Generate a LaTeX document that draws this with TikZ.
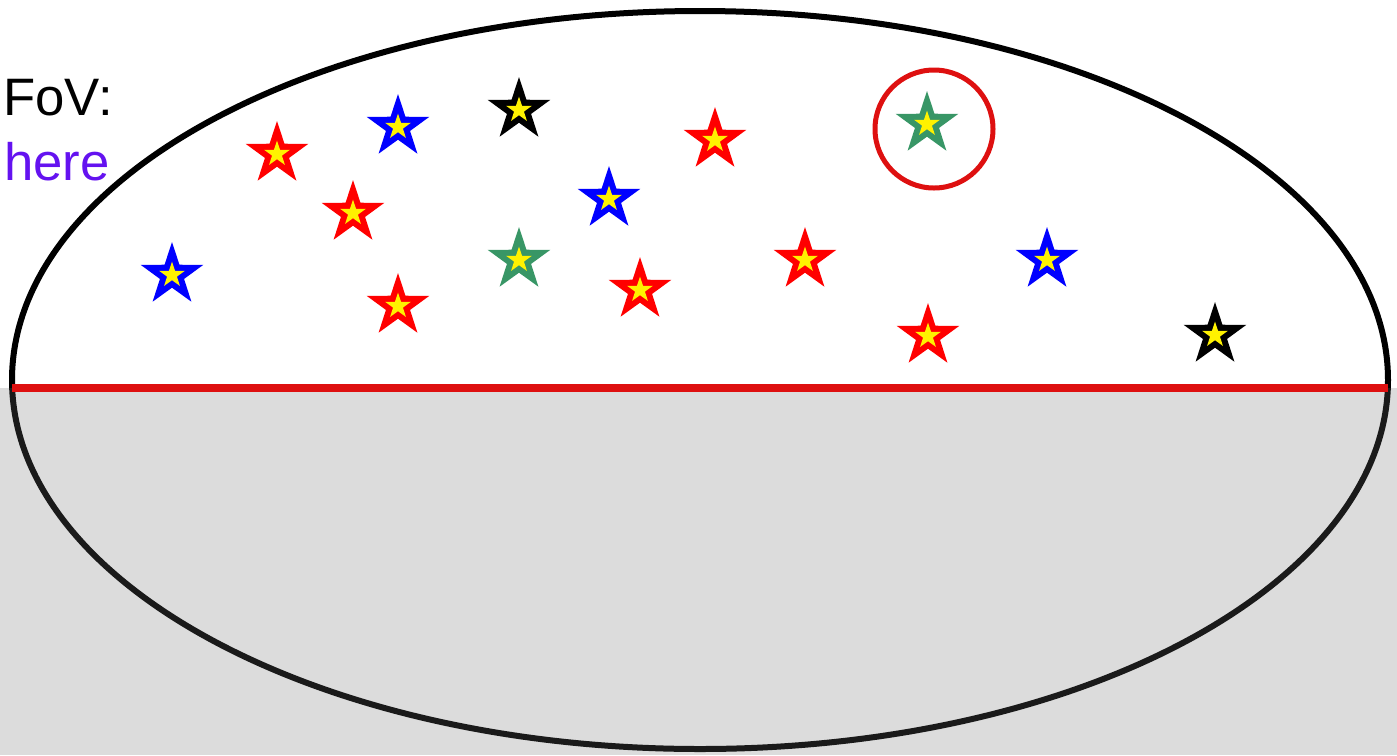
\documentclass[tikz,border=0pt]{standalone}
\usepackage{fontspec}
\setmainfont{Liberation Sans}
\usetikzlibrary{shapes.geometric}

\definecolor{skyred}{RGB}{255,0,0}
\definecolor{skyblue}{RGB}{0,0,255}
\definecolor{skygreen}{RGB}{56,150,102}
\definecolor{ringred}{RGB}{222,16,16}
\definecolor{groundgray}{RGB}{220,220,220}
\definecolor{labelpurple}{RGB}{100,18,240}

\begin{document}
\begin{tikzpicture}[x=0.02cm, y=-0.02cm,
    skystar/.style={star, star points=5, star point ratio=2.6, minimum size=1.32cm, inner sep=0pt},
    starcore/.style={star, star points=5, star point ratio=2.6, minimum size=0.54cm, inner sep=0pt, fill=yellow},
    fovlabel/.style={anchor=base east, inner sep=0pt, font=\fontsize{30pt}{34pt}\selectfont}]
      \useasboundingbox (0,0) rectangle (1397,755);

      % Ground
      \fill[groundgray] (0,388) rectangle (1397,755);

      % Sky
      \draw[line width=0.12cm] (700,380) ellipse [x radius=688, y radius=369];
      \fill[groundgray, opacity=0.12] (0,388) rectangle (1397,755);
      \coordinate (west) at (12,388);
      \coordinate (east) at (1388,388);
      \draw[ringred, line width=0.16cm] (west) -- (east);

      % Labels
      \node[fovlabel] (fov) at (113,115) {FoV:};
      \node[fovlabel, text=labelpurple] (here) at (110,180) {here};

      % Stars
      \node[skystar, fill=skyred] (r1) at (277,154) {};   \node[starcore] at (r1) {};
      \node[skystar, fill=skyblue] (b1) at (398,127) {};  \node[starcore] at (b1) {};
      \node[skystar, fill=black] (k1) at (519,110) {};    \node[starcore] at (k1) {};
      \node[skystar, fill=skyred] (r2) at (715,140) {};   \node[starcore] at (r2) {};
      \node[skystar, fill=skygreen] (g1) at (927,124) {}; \node[starcore] at (g1) {};
      \node[skystar, fill=skyred] (r3) at (353,213) {};   \node[starcore] at (r3) {};
      \node[skystar, fill=skyblue] (b2) at (609,199) {};  \node[starcore] at (b2) {};
      \node[skystar, fill=skyblue] (b3) at (172,275) {};  \node[starcore] at (b3) {};
      \node[skystar, fill=skygreen] (g2) at (519,260) {}; \node[starcore] at (g2) {};
      \node[skystar, fill=skyred] (r4) at (805,260) {};   \node[starcore] at (r4) {};
      \node[skystar, fill=skyblue] (b4) at (1047,260) {}; \node[starcore] at (b4) {};
      \node[skystar, fill=skyred] (r5) at (398,306) {};   \node[starcore] at (r5) {};
      \node[skystar, fill=skyred] (r6) at (640,290) {};   \node[starcore] at (r6) {};
      \node[skystar, fill=skyred] (r7) at (928,336) {};   \node[starcore] at (r7) {};
      \node[skystar, fill=black] (k2) at (1215,335) {};   \node[starcore] at (k2) {};

      % Ring
      \draw[ringred, line width=0.1cm] (934,129) circle [radius=59];
\end{tikzpicture}
\end{document}
